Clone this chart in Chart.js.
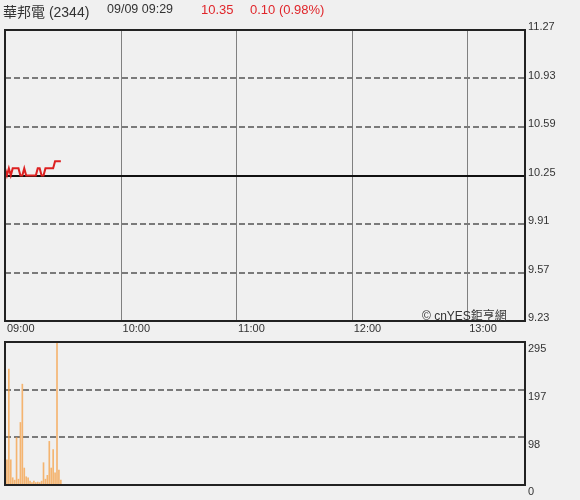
<!DOCTYPE html>
<html>
<head>
<meta charset="utf-8">
<script src="https://cdn.jsdelivr.net/npm/chart.js@4.4.1/dist/chart.umd.min.js"></script>
<style>
  body { margin: 0; background: #f0f0f0; font-family: "Liberation Sans", "Noto Sans CJK TC", sans-serif; }
  #wrap { position: relative; width: 580px; height: 500px; overflow: hidden; }
  canvas { position: absolute; left: 0; }
  #priceChart { top: 0; }
  #volChart { top: 340px; }
  .hd { position: absolute; top: 2px; color: #333; font-size: 12.5px; white-space: nowrap; z-index: 2; }
  .up { color: #e0262b; font-size: 13px; }
  #mark { position: absolute; left: 422px; top: 306px; font-size: 12px; color: #333; z-index: 2; }
</style>
</head>
<body>
<div id="wrap">
  <div class="hd" style="left:3px; top:1px; font-size:14px;">華邦電 (2344)</div>
  <div class="hd" style="left:107px;">09/09 09:29</div>
  <div class="hd up" style="left:201px;">10.35</div>
  <div class="hd up" style="left:250px;">0.10 (0.98%)</div>
  <canvas id="priceChart" width="580" height="340"></canvas>
  <canvas id="volChart" width="580" height="160"></canvas>
  <div id="mark">© cnYES鉅亨網</div>
</div>
<script>
// --- DATA ---
const times = ['09:00','09:01','09:02','09:03','09:04','09:05','09:06','09:07','09:08','09:09',
               '09:10','09:11','09:12','09:13','09:14','09:15','09:16','09:17','09:18','09:19',
               '09:20','09:21','09:22','09:23','09:24','09:25','09:26','09:27','09:28','09:29'];
const prices = [10.30,10.25,10.30,10.25,10.30,10.30,10.30,10.30,10.25,10.25,
                10.30,10.25,10.25,10.25,10.25,10.25,10.25,10.30,10.30,10.25,
                10.25,10.30,10.30,10.30,10.30,10.30,10.35,10.35,10.35,10.35];
const volumes = [180,52,239,52,15,10,98,12,129,208,
                 35,17,15,8,5,8,5,6,5,8,
                 46,12,20,90,35,73,25,295,31,10];
const prevClose = 10.25;
const priceTicks = [9.23, 9.57, 9.91, 10.25, 10.59, 10.93, 11.27];
const volumeTicks = [0, 98, 197, 295];
const timeTicks = ['09:00','10:00','11:00','12:00','13:00'];
const sessionOpen = '09:00';
const sessionClose = '13:30';

const toMin = t => {
    const [h, m] = t.split(':').map(Number);
    const [h0, m0] = sessionOpen.split(':').map(Number);
    return (h - h0) * 60 + (m - m0);
};

const FONT = { family: '"Liberation Sans", Arial, sans-serif', size: 11 };

// frame + grid drawn from the scales
const framePlugin = {
    id: 'frame',
    beforeDatasetsDraw(chart, args, opts) {
        const { ctx, chartArea: a, scales: { x, y } } = chart;
        ctx.save();
        if (opts.vgrid) {
            ctx.strokeStyle = '#808080';
            ctx.lineWidth = 1;
            x.ticks.forEach(t => {
                if (t.value <= x.min || t.value >= x.max) return;
                const px = Math.round(x.getPixelForValue(t.value)) + 0.5;
                ctx.beginPath(); ctx.moveTo(px, a.top); ctx.lineTo(px, a.bottom); ctx.stroke();
            });
        }
        y.ticks.forEach(t => {
            if (t.value <= y.min || t.value >= y.max) return;
            const py = Math.round(y.getPixelForValue(t.value));
            ctx.beginPath();
            if (opts.base !== undefined && t.value === opts.base) {
                ctx.setLineDash([]);
                ctx.strokeStyle = '#111';
            } else {
                ctx.setLineDash([6, 3]);
                ctx.strokeStyle = '#7a7a7a';
            }
            ctx.lineWidth = 2;
            ctx.moveTo(a.left, py); ctx.lineTo(a.right, py); ctx.stroke();
        });
        ctx.restore();
    },
    afterDraw(chart) {
        const { ctx, chartArea: a } = chart;
        ctx.save();
        ctx.strokeStyle = '#222';
        ctx.lineWidth = 2;
        ctx.strokeRect(a.left, a.top, a.right - a.left, a.bottom - a.top);
        ctx.restore();
    }
};

const noPad = s => { s.paddingTop = 0; s.paddingBottom = 0; s.paddingLeft = 0; s.paddingRight = 0; };

// --- PRICE ---
new Chart(document.getElementById('priceChart'), {
    type: 'line',
    data: {
        datasets: [{
            data: times.map((t, i) => ({ x: toMin(t), y: prices[i] })),
            borderColor: '#dd2020',
            borderWidth: 2,
            pointRadius: 0,
            tension: 0
        }]
    },
    options: {
        responsive: false,
        animation: false,
        devicePixelRatio: 1,
        layout: { padding: { top: 30, left: 5, right: 0, bottom: 0 } },
        plugins: { legend: { display: false }, tooltip: { enabled: false },
                   frame: { vgrid: true, base: prevClose } },
        scales: {
            x: {
                type: 'linear',
                min: toMin(sessionOpen), max: toMin(sessionClose),
                offset: false,
                grid: { display: false, drawTicks: false }, border: { display: false },
                afterBuildTicks: s => { s.ticks = timeTicks.map(t => ({ value: toMin(t) })); },
                afterFit: s => { s.height = 19; noPad(s); },
                ticks: {
                    autoSkip: false, maxRotation: 0, align: 'start', labelOffset: 2, padding: 1,
                    color: '#333', font: FONT,
                    callback: (v, i) => timeTicks[i]
                }
            },
            y: {
                position: 'right',
                min: priceTicks[0], max: priceTicks[priceTicks.length - 1],
                grid: { display: false, drawTicks: false }, border: { display: false },
                afterBuildTicks: s => { s.ticks = priceTicks.map(v => ({ value: v })); },
                afterFit: s => { s.width = 55; noPad(s); },
                ticks: {
                    padding: 3, labelOffset: -3, color: '#333', font: FONT,
                    callback: v => v.toFixed(2)
                }
            }
        }
    },
    plugins: [framePlugin]
});

// --- VOLUME ---
new Chart(document.getElementById('volChart'), {
    type: 'bar',
    data: {
        datasets: [{
            data: times.map((t, i) => ({ x: toMin(t), y: volumes[i] })),
            backgroundColor: 'rgba(245,160,70,0.75)',
            barThickness: 1,
            borderWidth: 0
        }]
    },
    options: {
        responsive: false,
        animation: false,
        devicePixelRatio: 1,
        layout: { padding: { top: 2, left: 5, right: 0, bottom: 15 } },
        plugins: { legend: { display: false }, tooltip: { enabled: false },
                   frame: { vgrid: false } },
        scales: {
            x: {
                type: 'linear', display: false, offset: false,
                min: toMin(sessionOpen), max: toMin(sessionClose),
                grid: { display: false, offset: false }
            },
            y: {
                position: 'right',
                min: volumeTicks[0], max: volumeTicks[volumeTicks.length - 1],
                grid: { display: false, drawTicks: false }, border: { display: false },
                afterBuildTicks: s => { s.ticks = volumeTicks.map(v => ({ value: v })); },
                afterFit: s => { s.width = 55; noPad(s); },
                ticks: { padding: 3, labelOffset: 7, color: '#333', font: FONT }
            }
        }
    },
    plugins: [framePlugin]
});
</script>
</body>
</html>
